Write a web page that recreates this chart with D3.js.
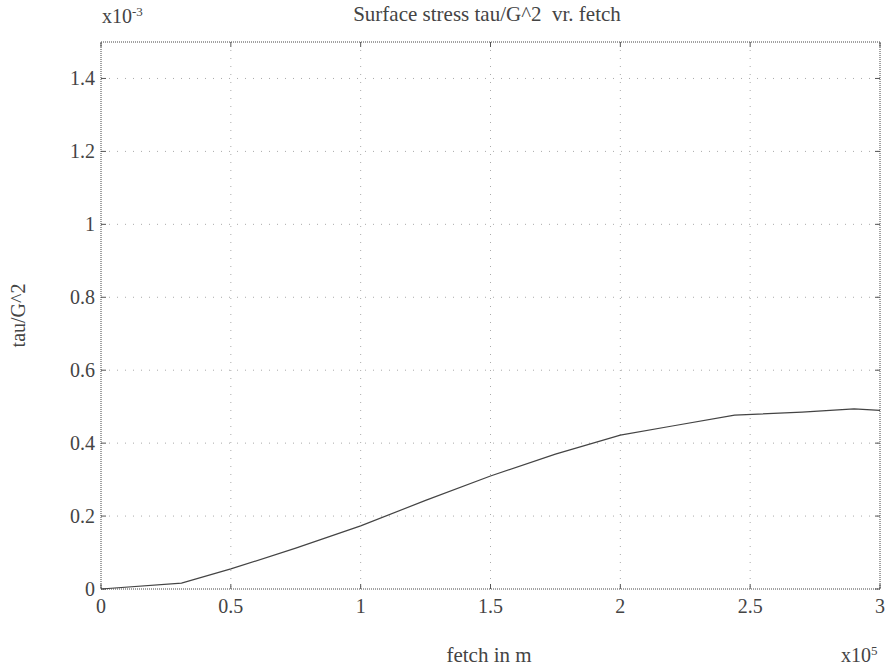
<!DOCTYPE html>
<html>
<head>
<meta charset="utf-8">
<script src="https://cdn.jsdelivr.net/npm/d3@7"></script>
<style>
body { margin:0; background:#fff; }
svg text { font-family: "Liberation Serif", "Times New Roman", serif; fill:#444; white-space: pre; }
</style>
</head>
<body>
<script>
// fetch (x10^5 m) and tau/G^2 (x10^-3)
var fetchVals = [0, 0.31, 0.5, 0.75, 1.0, 1.25, 1.5, 1.75, 2.0, 2.2, 2.44, 2.7, 2.9, 3.0];
var tauVals = [0, 0.016, 0.055, 0.112, 0.173, 0.243, 0.31, 0.37, 0.422, 0.447, 0.477, 0.485, 0.494, 0.49];
var xTicks = [0, 0.5, 1, 1.5, 2, 2.5, 3];
var yTicks = [0, 0.2, 0.4, 0.6, 0.8, 1, 1.2, 1.4];

const W = 892, H = 669;
const margin = {top:42, right:12, bottom:80, left:101};
const width = W - margin.left - margin.right;
const height = H - margin.top - margin.bottom;

var svg = d3.select("body").append("svg")
	.attr("width", W).attr("height", H);

var x = d3.scaleLinear().domain([0,3]).range([0,width]);
var y = d3.scaleLinear().domain([0,1.5]).range([height,0]);

var g = svg.append("g")
	.attr("transform","translate(" + margin.left + "," + margin.top + ")");

//grid
g.selectAll(".vgrid").data(xTicks.slice(1,-1)).enter().append("line")
	.attr("x1", d => x(d)).attr("x2", d => x(d))
	.attr("y1", 0).attr("y2", height)
	.attr("stroke", "#aaa").attr("stroke-width", 1)
	.attr("stroke-dasharray", "1,7");
g.selectAll(".hgrid").data(yTicks.slice(1)).enter().append("line")
	.attr("x1", 0).attr("x2", width)
	.attr("y1", d => y(d)).attr("y2", d => y(d))
	.attr("stroke", "#aaa").attr("stroke-width", 1)
	.attr("stroke-dasharray", "1,7");

//inward ticks on all four sides
var tk = 5;
g.selectAll(".tb").data(xTicks).enter().append("line")
	.attr("x1", d => x(d)).attr("x2", d => x(d))
	.attr("y1", height).attr("y2", height - tk)
	.attr("stroke", "#555");
g.selectAll(".tt").data(xTicks).enter().append("line")
	.attr("x1", d => x(d)).attr("x2", d => x(d))
	.attr("y1", 0).attr("y2", tk)
	.attr("stroke", "#555");
g.selectAll(".tl").data(yTicks).enter().append("line")
	.attr("x1", 0).attr("x2", tk)
	.attr("y1", d => y(d)).attr("y2", d => y(d))
	.attr("stroke", "#555");
g.selectAll(".tr").data(yTicks).enter().append("line")
	.attr("x1", width).attr("x2", width - tk)
	.attr("y1", d => y(d)).attr("y2", d => y(d))
	.attr("stroke", "#555");

//box
g.append("rect")
	.attr("x", 0).attr("y", 0)
	.attr("width", width).attr("height", height)
	.attr("fill", "none").attr("stroke", "#444")
	.attr("stroke-width", 1).attr("stroke-dasharray", "1,1");

//tick labels
g.selectAll(".xl").data(xTicks).enter().append("text")
	.attr("x", d => x(d)).attr("y", height + 24)
	.attr("text-anchor", "middle").attr("font-size", 20)
	.text(d => d);
g.selectAll(".yl").data(yTicks).enter().append("text")
	.attr("x", -6).attr("y", d => y(d)).attr("dy", "0.35em")
	.attr("text-anchor", "end").attr("font-size", 20)
	.text(d => d);

//curve
var data = fetchVals.map((v,i) => [v, tauVals[i]]);
g.append("path")
	.datum(data)
	.attr("fill", "none").attr("stroke", "#444").attr("stroke-width", 1.2)
	.attr("d", d3.line().x(d => x(d[0])).y(d => y(d[1])));

//title & labels
svg.append("text")
	.attr("x", 487).attr("y", 21)
	.attr("text-anchor", "middle").attr("font-size", 21)
	.text("Surface stress tau/G^2  vr. fetch");

svg.append("text")
	.attr("x", 489).attr("y", 662)
	.attr("text-anchor", "middle").attr("font-size", 21)
	.text("fetch in m");

svg.append("text")
	.attr("transform", "translate(25," + (margin.top + height/2) + ") rotate(-90)")
	.attr("text-anchor", "middle").attr("font-size", 20)
	.text("tau/G^2");

var e1 = svg.append("text").attr("x", 102).attr("y", 23).attr("font-size", 20);
e1.append("tspan").text("x10");
e1.append("tspan").attr("dy", -7).attr("font-size", 13).text("-3");

var e2 = svg.append("text").attr("x", 841).attr("y", 662).attr("font-size", 20);
e2.append("tspan").text("x10");
e2.append("tspan").attr("dy", -7).attr("font-size", 13).text("5");
</script>
</body>
</html>
